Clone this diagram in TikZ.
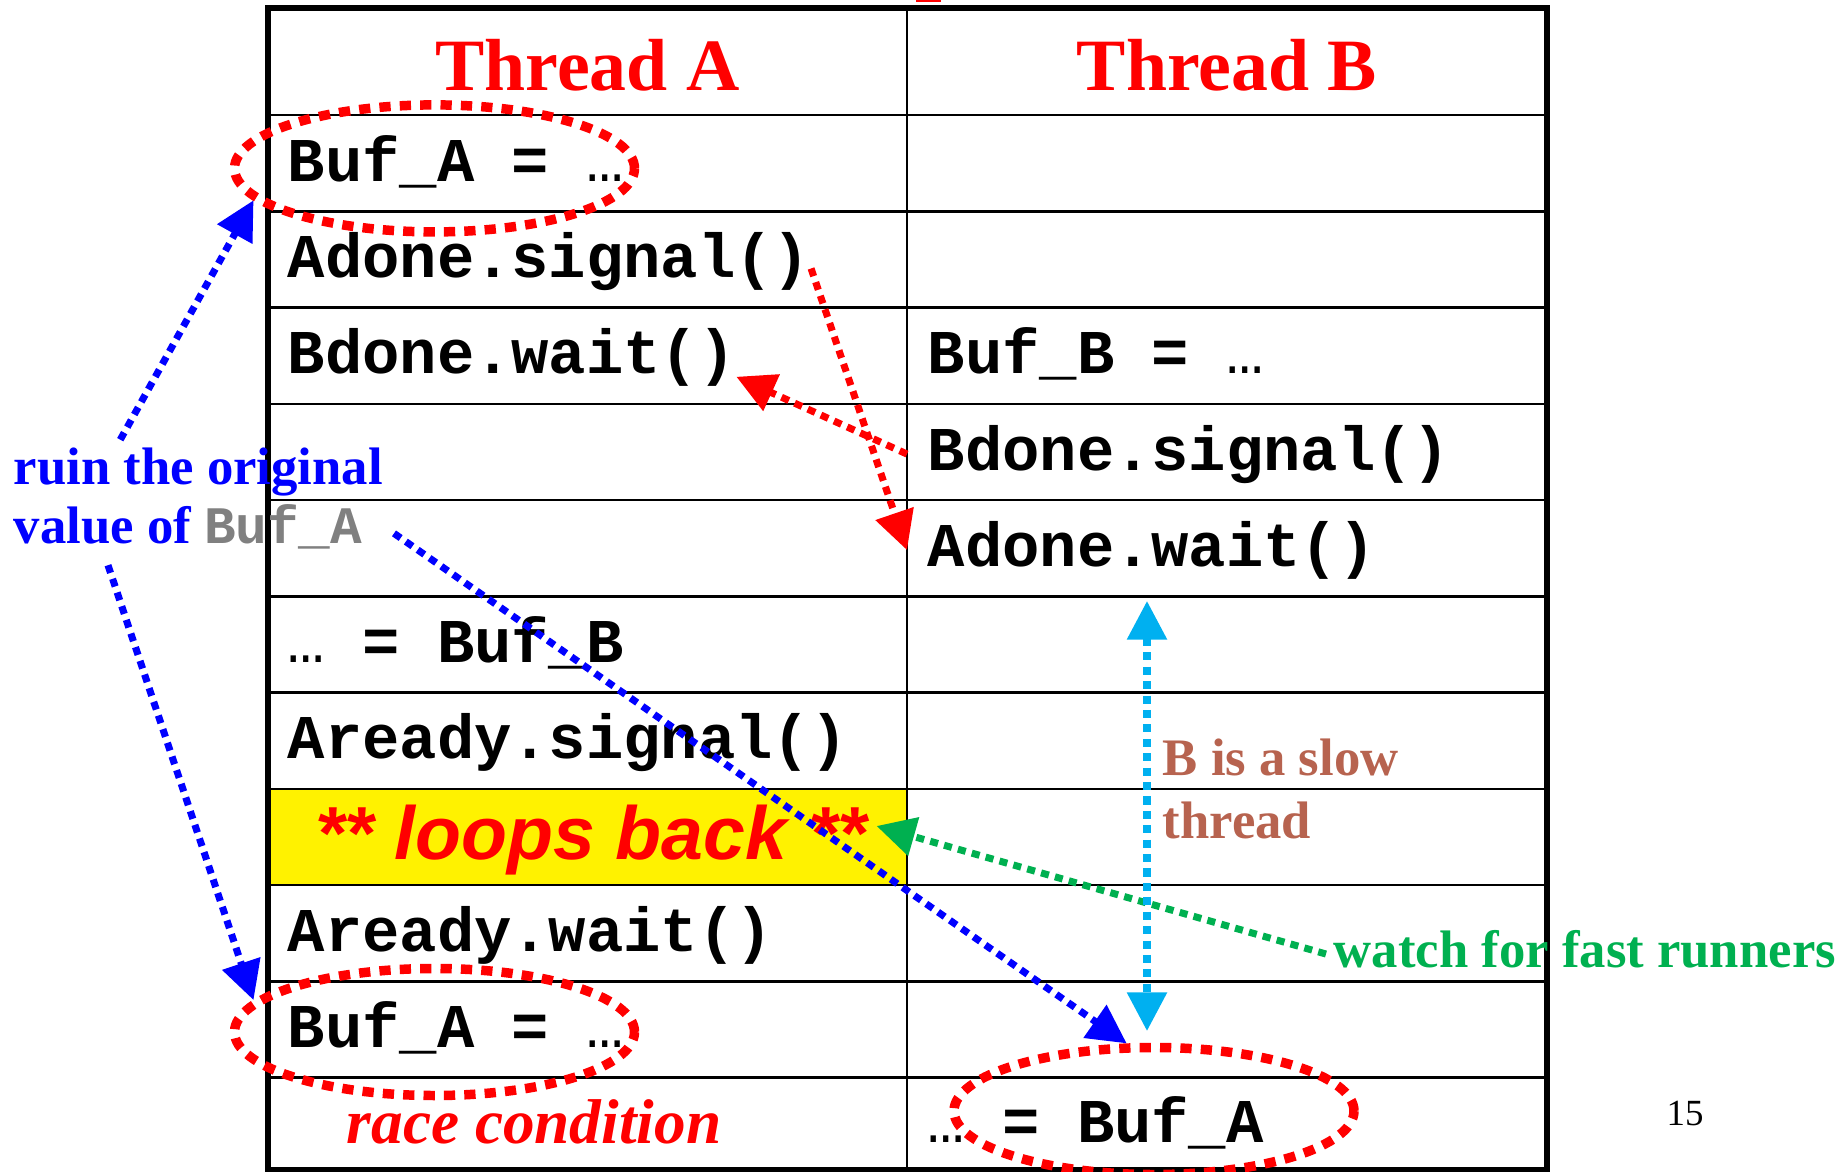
\documentclass[tikz,border=0pt]{standalone}
\usepackage{fontspec}
\setmainfont{Liberation Serif}
\newfontfamily\codefont{Liberation Mono}
\newfontfamily\loopfont{Liberation Sans}
\usetikzlibrary{arrows.meta,shapes.geometric}
\definecolor{slowbrown}{RGB}{183,99,79}
\definecolor{fastgreen}{RGB}{0,176,80}
\definecolor{skyblue}{RGB}{0,176,240}
\definecolor{codegray}{RGB}{128,128,128}
\newcommand{\dotsmono}{{\mdseries …}}
\begin{document}
\begin{tikzpicture}[x=1cm,y=-1cm,>={Triangle[length=11pt,width=11pt]},
    cell/.style={anchor=base west,inner sep=0pt,font=\codefont\bfseries\fontsize{17.7}{20}\selectfont},
    ring/.style={draw=red,ellipse,line width=2.7pt,dash pattern=on 3.2pt off 2.6pt,
        minimum width=4.0cm,minimum height=1.27cm,inner sep=0pt},
    dots/.style={line width=2pt,dash pattern=on 2.3pt off 1.8pt},
    note/.style={anchor=base west,inner sep=2pt,font=\bfseries\fontsize{15}{17}\selectfont}]
        \useasboundingbox (0,0) rectangle (18.44,11.72);
        \fill[red] (9.16,0) rectangle (9.41,0.023);
        % table
        \fill[yellow] (2.68,7.889) rectangle (9.07,8.852);
        \foreach \y in {1.15,2.113,3.075,4.038,5.001,5.964,6.926,7.889,8.852,9.814,10.777}
        \draw[line width=0.7pt] (2.68,\y) -- (15.47,\y);
        \draw[line width=0.7pt] (9.07,0.08) -- (9.07,11.70);
        \draw[line width=1.6pt] (2.68,0.08) rectangle (15.47,11.70);
        \node[red,anchor=base,font=\bfseries\fontsize{21}{24}\selectfont] (thA) at (5.875,0.90) {Thread A};
        \node[red,anchor=base,font=\bfseries\fontsize{21}{24}\selectfont] (thB) at (12.27,0.90) {Thread B};
        % thread A
        \node[cell] (bufA1) at (2.87,1.81) {Buf\_A = \dotsmono};
        \node[cell] (asig) at (2.87,2.774) {Adone.signal()};
        \node[cell] (bwait) at (2.87,3.737) {Bdone.wait()};
        \node[cell] (getB) at (2.87,6.625) {\dotsmono{} = Buf\_B};
        \node[cell] (rsig) at (2.87,7.588) {Aready.signal()};
        \node[red,anchor=base,inner sep=0pt,font=\loopfont\bfseries\itshape\fontsize{21.4}{24}\selectfont]
            (loops) at (5.91,8.595) {** loops back **};
        \node[cell] (rwait) at (2.87,9.513) {Aready.wait()};
        \node[cell] (bufA2) at (2.87,10.476) {Buf\_A = \dotsmono};
        \node[red,anchor=base,font=\bfseries\itshape\fontsize{18}{20}\selectfont] (race) at (5.34,11.43) {race condition};
        % thread B
        \node[cell] (bufB) at (9.27,3.737) {Buf\_B = \dotsmono};
        \node[cell] (bsig) at (9.27,4.70) {Bdone.signal()};
        \node[cell] (await) at (9.27,5.662) {Adone.wait()};
        \node[cell] (getA) at (9.27,11.42) {\dotsmono{} = Buf\_A};
        % notes
        \node[note,blue] (ruin) at (0.06,4.84) {ruin the original};
        \node[note,blue] (valof) at (0.06,5.43) {value of {\color{codegray}\codefont Buf\_A}};
        \node[note,slowbrown] (slow1) at (11.55,7.75) {B is a slow};
        \node[note,slowbrown] (slow2) at (11.55,8.383) {thread};
        \node[note,fastgreen] (watch) at (13.26,9.67) {watch for fast runners};
        \node[anchor=base,font=\fontsize{10.5}{12}\selectfont] (pnum) at (16.85,11.256) {15};
        % rings
        \node[ring] (ovA1) at (4.345,1.684) {};
        \node[ring] (ovA2) at (4.345,10.32) {};
        \node[ring] (ovB) at (11.54,11.11) {};
        % arrows
        \draw[->,dots,red] ([yshift=-2pt]asig.east) -- ([xshift=-0.2cm]await.west);
        \draw[->,dots,red] ([xshift=-0.2cm]bsig.west) -- ([yshift=3pt]bwait.south east);
        \draw[->,dots,blue] ([xshift=-0.78cm]ruin.north) -- (ovA1.190);
        \draw[->,dots,blue] ([xshift=-0.8cm,yshift=-2.5pt]valof.south) -- (ovA2.170);
        \draw[->,dots,blue] ([xshift=0.24cm,yshift=-2pt]valof.east) -- (ovB.112);
        \draw[->,dots,fastgreen] ([yshift=-1.5pt]watch.west) -- ([xshift=0.09cm,yshift=4pt]loops.east);
        \coordinate (slowtop) at (11.47,6.01);
        \coordinate (slowbot) at (11.47,10.31);
        \draw[<->,dots,skyblue] (slowtop) -- (slowbot);
\end{tikzpicture}
\end{document}
